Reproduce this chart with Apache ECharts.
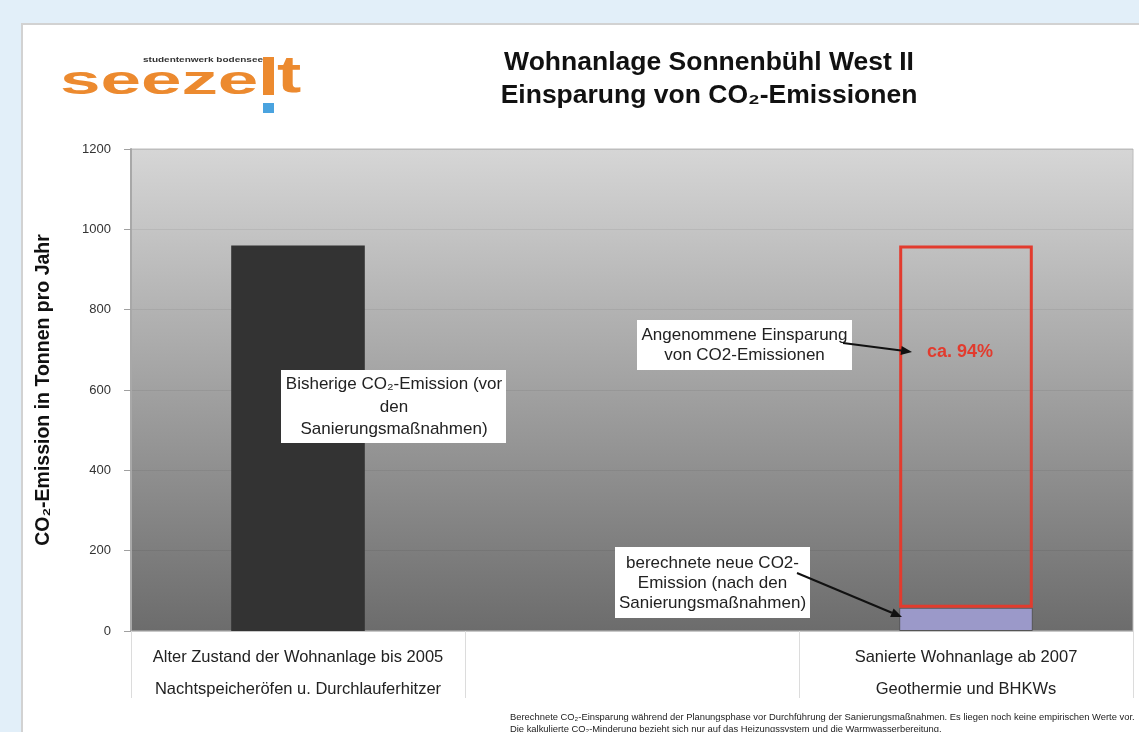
<!DOCTYPE html>
<html>
<head>
<meta charset="utf-8">
<style>
html,body{margin:0;padding:0;background:#e2eff9;}
#chart{width:1139px;height:732px;}
</style>
<script src="https://cdn.jsdelivr.net/npm/echarts@6/dist/echarts.min.js"></script>
</head>
<body>
<div id="chart"></div>
<script>
// ---- data ----
var categoriesTop = ['Alter Zustand der Wohnanlage bis 2005', '', 'Sanierte Wohnanlage ab 2007'];
var categoriesBottom = ['Nachtspeicheröfen u. Durchlauferhitzer', '', 'Geothermie und BHKWs'];
var oldEmission = [960, '-', '-'];
var newEmission = ['-', '-', 58];
var savedEmission = ['-', '-', 902];
var yTicks = [0, 200, 400, 600, 800, 1000, 1200];

var FONT = '"Liberation Sans", Arial, Helvetica, sans-serif';
var chart = echarts.init(document.getElementById('chart'));

function arrow(x1, y1, x2, y2) {
  var a = Math.atan2(y2 - y1, x2 - x1), L = 11, W = 4.5;
  var bx = x2 - L * Math.cos(a), by = y2 - L * Math.sin(a);
  var px = -Math.sin(a) * W, py = Math.cos(a) * W;
  return [
    {type: 'line', z: 110, shape: {x1: x1, y1: y1, x2: bx, y2: by}, style: {stroke: '#111', lineWidth: 2}},
    {type: 'polygon', z: 110, shape: {points: [[x2, y2], [bx + px, by + py], [bx - px, by - py]]}, style: {fill: '#111'}}
  ];
}

var graphics = [
  // white card
  {type: 'rect', z: -10, shape: {x: 22, y: 24, width: 1200, height: 800}, style: {fill: '#ffffff', stroke: '#d2d2d2', lineWidth: 2}},
  // logo
  {type: 'text', z: 50, x: 60, y: 83, scaleX: 1.82, style: {text: 'seeze', font: 'bold 40px ' + FONT, fill: '#ec8a2f', verticalAlign: 'middle', align: 'left'}},
  {type: 'rect', z: 50, shape: {x: 263, y: 57, width: 11, height: 38}, style: {fill: '#ec8a2f'}},
  {type: 'text', z: 50, x: 277, y: 78, scaleX: 1.4, style: {text: 't', font: 'bold 52px ' + FONT, fill: '#ec8a2f', verticalAlign: 'middle', align: 'left'}},
  {type: 'rect', z: 50, shape: {x: 263, y: 103, width: 11, height: 10}, style: {fill: '#4aa3df'}},
  {type: 'text', z: 50, x: 143, y: 60, scaleX: 1.25, style: {text: 'studentenwerk bodensee', font: 'bold 8px ' + FONT, fill: '#333', verticalAlign: 'middle', align: 'left'}},
  // title
  {type: 'text', z: 50, style: {text: 'Wohnanlage Sonnenbühl West II', x: 709, y: 63, font: 'bold 26.5px ' + FONT, fill: '#111', align: 'center', verticalAlign: 'middle'}},
  {type: 'text', z: 50, style: {text: 'Einsparung von CO₂-Emissionen', x: 709, y: 96, font: 'bold 26.5px ' + FONT, fill: '#111', align: 'center', verticalAlign: 'middle'}},
  // annotation 1
  {type: 'rect', z: 100, shape: {x: 281, y: 370, width: 225, height: 73}, style: {fill: '#fff'}},
  {type: 'text', z: 101, style: {text: 'Bisherige CO₂-Emission (vor\nden\nSanierungsmaßnahmen)', x: 394, y: 407, font: '17px ' + FONT, lineHeight: 22.5, fill: '#222', align: 'center', verticalAlign: 'middle'}},
  // annotation 2
  {type: 'rect', z: 100, shape: {x: 637, y: 320, width: 215, height: 50}, style: {fill: '#fff'}},
  {type: 'text', z: 101, style: {text: 'Angenommene Einsparung\nvon CO2-Emissionen', x: 744.5, y: 345, font: '17px ' + FONT, lineHeight: 20, fill: '#222', align: 'center', verticalAlign: 'middle'}},
  {type: 'text', z: 101, style: {text: 'ca. 94%', x: 927, y: 352, font: 'bold 18px ' + FONT, fill: '#e23b2e', align: 'left', verticalAlign: 'middle'}},
  // annotation 3
  {type: 'rect', z: 100, shape: {x: 615, y: 547, width: 195, height: 71}, style: {fill: '#fff'}},
  {type: 'text', z: 101, style: {text: 'berechnete neue CO2-\nEmission (nach den\nSanierungsmaßnahmen)', x: 712.5, y: 583, font: '17px ' + FONT, lineHeight: 20, fill: '#222', align: 'center', verticalAlign: 'middle'}},
  // footnote
  {type: 'text', z: 50, style: {text: 'Berechnete CO₂-Einsparung während der Planungsphase vor Durchführung der Sanierungsmaßnahmen. Es liegen noch keine empirischen Werte vor.', x: 510, y: 717, font: '9.4px ' + FONT, fill: '#222', align: 'left', verticalAlign: 'middle'}},
  {type: 'text', z: 50, style: {text: 'Die kalkulierte CO₂-Minderung bezieht sich nur auf das Heizungssystem und die Warmwasserbereitung.', x: 510, y: 729, font: '9.4px ' + FONT, fill: '#222', align: 'left', verticalAlign: 'middle'}}
].concat(arrow(843, 343, 912, 352)).concat(arrow(797, 573, 902, 617));

var option = {
  animation: false,
  backgroundColor: '#e2eff9',
  graphic: {elements: graphics},
  grid: {
    left: 131, right: 6, top: 149, bottom: 101,
    show: true,
    backgroundColor: new echarts.graphic.LinearGradient(0, 0, 0, 1, [
      {offset: 0, color: '#d6d6d6'},
      {offset: 1, color: '#6c6c6c'}
    ]),
    borderColor: '#bcbcbc',
    borderWidth: 1
  },
  xAxis: {
    type: 'category',
    data: categoriesTop.map(function (t, i) { return t + '\n' + categoriesBottom[i]; }),
    axisLine: {show: true, lineStyle: {color: '#c8c8c8'}},
    axisTick: {show: true, interval: 0, length: 67, lineStyle: {color: '#dcdcdc'}},
    axisLabel: {interval: 0, margin: 10, lineHeight: 32, fontSize: 16.5, color: '#222', fontFamily: FONT}
  },
  yAxis: {
    type: 'value',
    min: yTicks[0], max: yTicks[yTicks.length - 1], interval: 200,
    name: 'CO₂-Emission in Tonnen pro Jahr',
    nameLocation: 'middle',
    nameRotate: 90,
    nameGap: 77,
    nameTextStyle: {fontSize: 19.5, fontWeight: 'bold', color: '#111', fontFamily: FONT},
    axisLine: {show: true, lineStyle: {color: '#a8a8a8', width: 2}},
    axisTick: {show: true, length: 7, lineStyle: {color: '#a0a0a0'}},
    axisLabel: {margin: 20, fontSize: 13, color: '#333', fontFamily: FONT, formatter: function (v) { return String(v); }},
    splitLine: {show: true, lineStyle: {color: 'rgba(0,0,0,0.06)'}}
  },
  series: [
    {name: 'Alt', type: 'bar', stack: 'total', barWidth: '40%', data: oldEmission, itemStyle: {color: '#333333'}},
    {name: 'Neu', type: 'bar', stack: 'total', barWidth: '40%', data: newEmission, itemStyle: {color: '#9b99c9', borderColor: '#555', borderWidth: 1}},
    {name: 'Einsparung', type: 'bar', stack: 'total', barWidth: '40%', data: savedEmission, itemStyle: {color: 'rgba(0,0,0,0)', borderColor: '#e23b2e', borderWidth: 3}}
  ]
};
chart.setOption(option);
</script>
</body>
</html>
